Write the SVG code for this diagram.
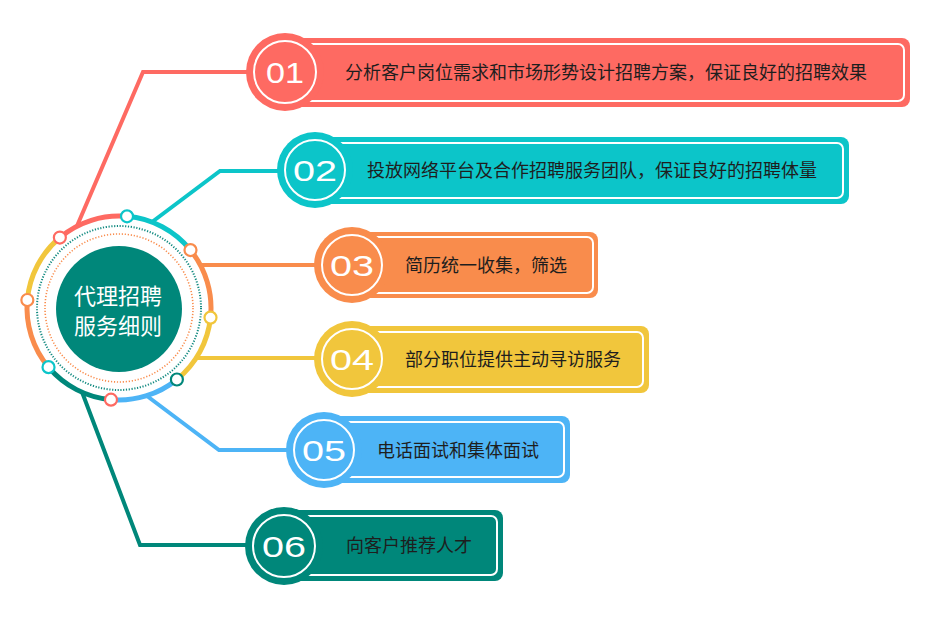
<svg xmlns="http://www.w3.org/2000/svg" width="930" height="624" viewBox="0 0 930 624">
<style>
.lbl{font-family:"Noto Sans CJK SC","Noto Sans",sans-serif;font-size:18px;fill:#1e1e1e}
.num{font-family:"Liberation Sans",Arial,sans-serif;font-size:30px;font-weight:normal;fill:#fff;text-anchor:middle}
.ring{fill:none;stroke:#fff;stroke-width:2}
.inner{fill:none;stroke:#fff;stroke-width:2}
.conn{fill:none;stroke-width:4;stroke-linejoin:miter}
.arc{fill:none;stroke-width:5}
.dot{fill:#fff;stroke-width:2.2}
.ctext{font-family:"Noto Sans CJK SC","Noto Sans",sans-serif;font-size:22px;fill:#fff;text-anchor:middle}
</style>
<rect width="930" height="624" fill="#fff"/>
<g id="connectors">
<polyline class="conn" stroke="#FE6A62" points="77,226 143,72 260,72"/>
<polyline class="conn" stroke="#0CC5C9" points="152,222 220,171 290,171"/>
<polyline class="conn" stroke="#F98C4C" points="200,265 325,265"/>
<polyline class="conn" stroke="#F1C63C" points="196,358 325,358"/>
<polyline class="conn" stroke="#4DB4F6" points="147,396 219,450 300,450"/>
<polyline class="conn" stroke="#00877A" points="82,392 140,545 260,545"/>
</g>
<g id="center">
<path class="arc" stroke="#FE6A62" d="M59.86,237.53 A92,92 0 0 1 127.02,216.35"/>
<path class="arc" stroke="#0CC5C9" d="M127.02,216.35 A92,92 0 0 1 190.49,250.10"/>
<path class="arc" stroke="#F98C4C" d="M190.49,250.10 A92,92 0 0 1 210.50,317.62"/>
<path class="arc" stroke="#F1C63C" d="M210.50,317.62 A92,92 0 0 1 176.90,379.50"/>
<path class="arc" stroke="#4DB4F6" d="M176.90,379.50 A92,92 0 0 1 110.98,399.65"/>
<path class="arc" stroke="#00877A" d="M110.98,399.65 A92,92 0 0 1 48.52,367.14"/>
<path class="arc" stroke="#F98C4C" d="M48.52,367.14 A92,92 0 0 1 27.35,299.98"/>
<path class="arc" stroke="#F1C63C" d="M27.35,299.98 A92,92 0 0 1 59.86,237.53"/>
<circle cx="119" cy="308" r="82" fill="none" stroke="#128a80" stroke-width="2" stroke-dasharray="1.2 1.6"/>
<circle cx="119" cy="308" r="74" fill="none" stroke="#F98C4C" stroke-width="1.6" stroke-dasharray="1.2 1.8"/>
<circle cx="119" cy="309" r="63" fill="#00877A"/>
<text class="ctext" x="118" y="304">代理招聘</text>
<text class="ctext" x="118" y="334">服务细则</text>
<circle class="dot" stroke="#FE6A62" cx="59.86" cy="237.53" r="6"/>
<circle class="dot" stroke="#0CC5C9" cx="127.02" cy="216.35" r="6"/>
<circle class="dot" stroke="#F98C4C" cx="190.49" cy="250.10" r="6"/>
<circle class="dot" stroke="#F1C63C" cx="210.50" cy="317.62" r="6"/>
<circle class="dot" stroke="#00877A" cx="176.90" cy="379.50" r="6"/>
<circle class="dot" stroke="#FE6A62" cx="110.98" cy="399.65" r="6"/>
<circle class="dot" stroke="#0CC5C9" cx="48.52" cy="367.14" r="6"/>
<circle class="dot" stroke="#F98C4C" cx="27.35" cy="299.98" r="6"/>
</g>
<g id="item1">
<rect x="285" y="38" width="625" height="69" rx="8" fill="#FE6A62"/>
<rect class="inner" x="290" y="44" width="614" height="57" rx="6"/>
<circle cx="285" cy="72" r="39" fill="#FE6A62"/>
<circle class="ring" cx="285" cy="72" r="31"/>
<text class="num" x="285" y="83" textLength="38" lengthAdjust="spacingAndGlyphs">01</text>
<text class="lbl" x="345" y="79">分析客户岗位需求和市场形势设计招聘方案，保证良好的招聘效果</text>
</g>
<g id="item2">
<rect x="315" y="137" width="534" height="67" rx="8" fill="#0CC5C9"/>
<rect class="inner" x="320" y="143" width="523" height="55" rx="6"/>
<circle cx="315" cy="170" r="38" fill="#0CC5C9"/>
<circle class="ring" cx="315" cy="170" r="30"/>
<text class="num" x="315" y="181" textLength="44" lengthAdjust="spacingAndGlyphs">02</text>
<text class="lbl" x="367" y="177">投放网络平台及合作招聘服务团队，保证良好的招聘体量</text>
</g>
<g id="item3">
<rect x="352" y="232" width="246" height="66" rx="8" fill="#F98C4C"/>
<rect class="inner" x="357" y="237" width="236" height="56" rx="6"/>
<circle cx="352" cy="265" r="38" fill="#F98C4C"/>
<circle class="ring" cx="352" cy="265" r="30"/>
<text class="num" x="352" y="276" textLength="44" lengthAdjust="spacingAndGlyphs">03</text>
<text class="lbl" x="405" y="272">简历统一收集，筛选</text>
</g>
<g id="item4">
<rect x="352" y="326" width="297" height="67" rx="8" fill="#F1C63C"/>
<rect class="inner" x="357" y="332" width="286" height="55" rx="6"/>
<circle cx="352" cy="359" r="38" fill="#F1C63C"/>
<circle class="ring" cx="352" cy="359" r="30"/>
<text class="num" x="352" y="370" textLength="44" lengthAdjust="spacingAndGlyphs">04</text>
<text class="lbl" x="405" y="366">部分职位提供主动寻访服务</text>
</g>
<g id="item5">
<rect x="324" y="416" width="246" height="67" rx="8" fill="#4DB4F6"/>
<rect class="inner" x="329" y="422" width="235" height="55" rx="6"/>
<circle cx="324" cy="450" r="38" fill="#4DB4F6"/>
<circle class="ring" cx="324" cy="450" r="30"/>
<text class="num" x="324" y="461" textLength="44" lengthAdjust="spacingAndGlyphs">05</text>
<text class="lbl" x="377" y="457">电话面试和集体面试</text>
</g>
<g id="item6">
<rect x="284" y="510" width="219" height="71" rx="8" fill="#00877A"/>
<rect class="inner" x="289" y="516" width="208" height="59" rx="6"/>
<circle cx="284" cy="546" r="39" fill="#00877A"/>
<circle class="ring" cx="284" cy="546" r="31"/>
<text class="num" x="284" y="557" textLength="44" lengthAdjust="spacingAndGlyphs">06</text>
<text class="lbl" x="346" y="552">向客户推荐人才</text>
</g>
</svg>
